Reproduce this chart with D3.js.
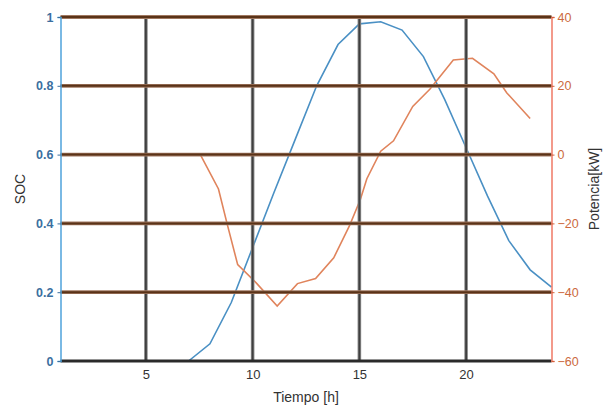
<!DOCTYPE html>
<html>
<head>
<meta charset="utf-8">
<script src="https://cdn.jsdelivr.net/npm/d3@7"></script>
<style>
html,body{margin:0;padding:0;background:#fff;}
svg{display:block;font-family:"Liberation Sans",Arial,sans-serif;}
</style>
</head>
<body>
<svg id="chart" width="603" height="410"></svg>
<script>
// ---- data ----
const socHours = [1,2,3,4,5,6,7,8,9,10,11,12,13,14,15,16,17,18,19,20,21,22,23,24];
const socValues = [0,0,0,0,0,0,0,0.05,0.17,0.33,0.49,0.645,0.80,0.92,0.98,0.986,0.962,0.885,0.76,0.62,0.48,0.35,0.265,0.215];
const powHours = [7.55,8.4,8.8,9.3,10.2,11.15,12.1,12.95,13.8,14.55,15.05,15.35,16.0,16.6,17.5,18.3,19.4,20.3,21.3,21.9,23.0];
const powValues = [0,-10,-20,-32,-37.5,-44,-37.5,-36,-30,-20.5,-13,-7,1,4,14,19,27.5,28,23.5,18,10.5];
const xTicks = [5,10,15,20];
const socTicks = [0,0.2,0.4,0.6,0.8,1];
const powTicks = [-60,-40,-20,0,20,40];

// ---- layout ----
const L = 60.5, R = 551.5, T = 17, B = 361;
const svg = d3.select("#chart");
const x = d3.scaleLinear().domain([1,24]).range([L,R]);
const yS = d3.scaleLinear().domain([0,1]).range([B,T]);
const yP = d3.scaleLinear().domain([-60,40]).range([B,T]);

// ---- data lines ----
svg.append("path")
  .datum(socHours.map((h,i)=>[h,socValues[i]]))
  .attr("fill","none").attr("stroke","#4a90c4").attr("stroke-width",1.6)
  .attr("d", d3.line().x(d=>x(d[0])).y(d=>yS(d[1])));
svg.append("path")
  .datum(powHours.map((h,i)=>[h,powValues[i]]))
  .attr("fill","none").attr("stroke","#e0845c").attr("stroke-width",1.6)
  .attr("d", d3.line().x(d=>x(d[0])).y(d=>yP(d[1])));

// ---- grid ----
const grid = svg.append("g");
xTicks.forEach(t=>{
  grid.append("line").attr("x1",x(t)).attr("x2",x(t)).attr("y1",T).attr("y2",B)
    .attr("stroke","#8a8a8a").attr("stroke-width",3.6);
  grid.append("line").attr("x1",x(t)).attr("x2",x(t)).attr("y1",T).attr("y2",B)
    .attr("stroke","#3f3f3f").attr("stroke-width",1.8);
});
socTicks.filter(v=>v>0).forEach(v=>{
  grid.append("line").attr("x1",L).attr("x2",R).attr("y1",yS(v)).attr("y2",yS(v))
    .attr("stroke","#a07860").attr("stroke-width",3.8);
  grid.append("line").attr("x1",L).attr("x2",R).attr("y1",yS(v)).attr("y2",yS(v))
    .attr("stroke","#5a3318").attr("stroke-width",2);
});
// bottom axis line
grid.append("line").attr("x1",L).attr("x2",R).attr("y1",B).attr("y2",B)
  .attr("stroke","#2a2a2a").attr("stroke-width",3);

// ---- axes ----
const xAxis = svg.append("g").attr("transform",`translate(0,${B})`)
  .call(d3.axisBottom(x).tickValues(xTicks).tickSize(0).tickPadding(9));
xAxis.select(".domain").remove();
xAxis.selectAll("text").attr("fill","#333").style("font-size","13px");

const yLeft = svg.append("g").attr("transform",`translate(${L},0)`)
  .call(d3.axisLeft(yS).tickValues(socTicks).tickSize(3).tickPadding(4).tickFormat(d3.format("")));
yLeft.select(".domain").attr("stroke","#4fa3db").attr("stroke-width",1.5);
yLeft.selectAll(".tick line").attr("stroke","#3a6e9e");
yLeft.selectAll("text").attr("fill","#3b6f9f").style("font-size","12.5px").style("font-weight","bold");

const yRight = svg.append("g").attr("transform",`translate(${R},0)`)
  .call(d3.axisRight(yP).tickValues(powTicks).tickSize(3).tickPadding(3));
yRight.select(".domain").attr("stroke","#f07a66").attr("stroke-width",1.5);
yRight.selectAll(".tick line").attr("stroke","#d0603a");
yRight.selectAll("text").attr("fill","#cc6a40").style("font-size","12.5px");

// ---- labels ----
svg.append("text").attr("x",(L+R)/2).attr("y",402).attr("text-anchor","middle")
  .attr("fill","#333").style("font-size","14px").text("Tiempo [h]");
svg.append("text").attr("transform",`translate(25,${(T+B)/2}) rotate(-90)`)
  .attr("text-anchor","middle").attr("fill","#333").style("font-size","14px").text("SOC");
svg.append("text").attr("transform",`translate(599,${(T+B)/2}) rotate(-90)`)
  .attr("text-anchor","middle").attr("fill","#333").style("font-size","14px").text("Potencia[kW]");
</script>
</body>
</html>
